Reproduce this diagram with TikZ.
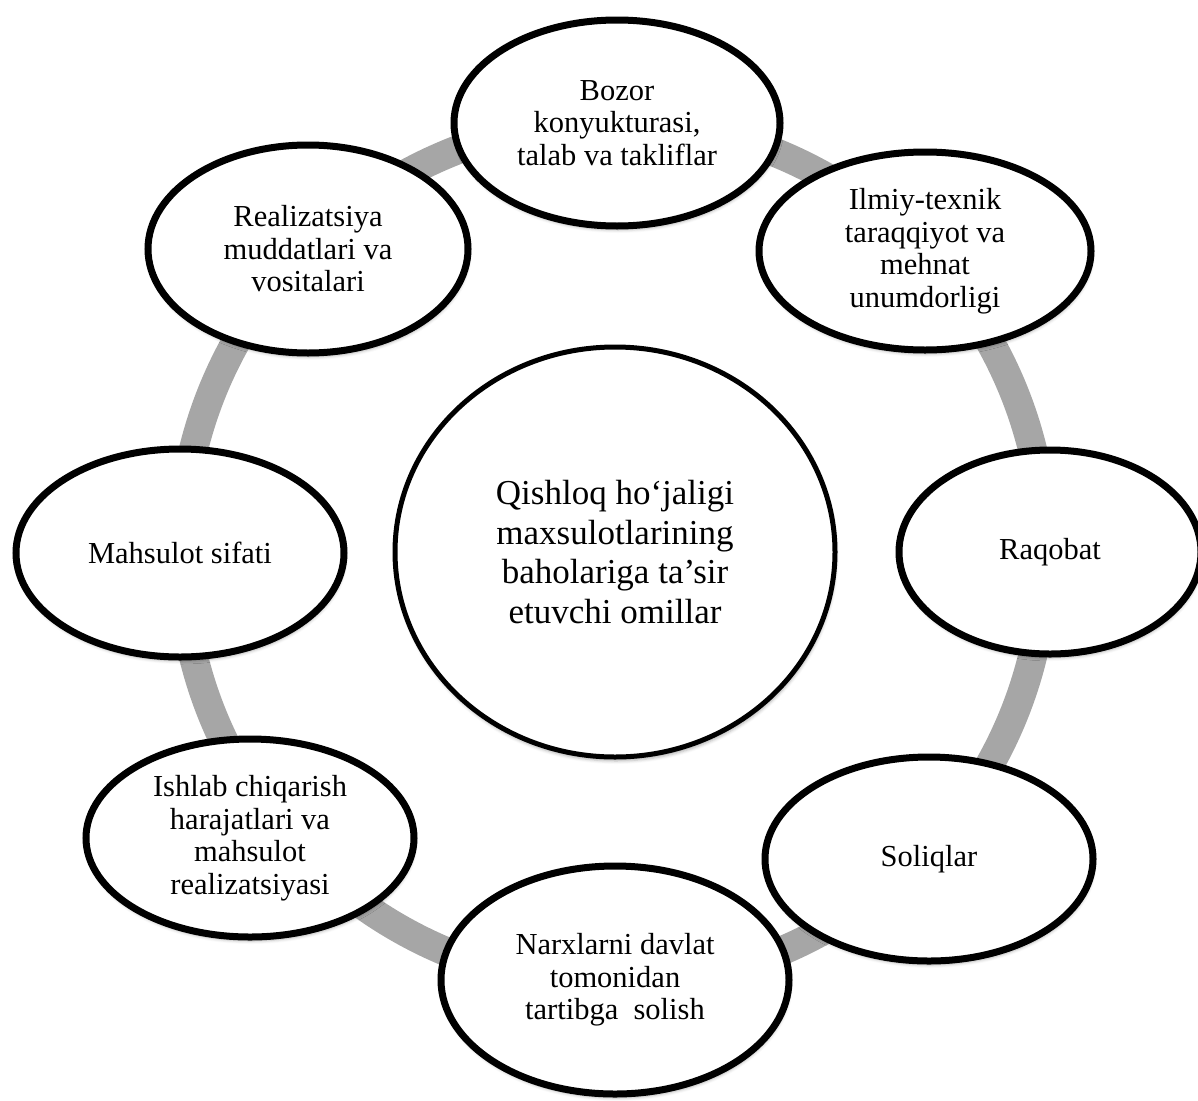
\documentclass[tikz,border=0pt]{standalone}
\usepackage{fontspec}
\setmainfont{Liberation Serif}
\newfontfamily\tnr{Liberation Serif}
\usetikzlibrary{shapes.geometric,shadows.blur,backgrounds}
\begin{document}
\begin{tikzpicture}[x=1pt,y=-1pt,
  softshadow/.style={blur shadow={shadow xshift=1pt, shadow yshift=-4pt, shadow blur radius=3pt, shadow opacity=30}},
  factor/.style={ellipse, draw=black, line width=7pt, fill=white, inner sep=0pt,
    align=center, font=\tnr\fontsize{30.5}{32.5}\selectfont, softshadow},
  hub/.style={ellipse, draw=black, line width=5pt, fill=white, inner sep=0pt,
    align=center, font=\tnr\fontsize{35}{39.5}\selectfont, softshadow},
  ring/.style={line width=29pt, draw=black!35}]
\useasboundingbox (0,0) rectangle (1198,1100);
\clip (0,0) rectangle (1198,1100);

\node[hub, minimum width=440pt, minimum height=410pt] (hub) at (615,552)
  {Qishloq ho‘jaligi\\maxsulotlarining\\baholariga ta’sir\\etuvchi omillar};

\node[factor, minimum width=326pt, minimum height=206pt] (bozor) at (617,123)
  {Bozor\\konyukturasi,\\talab va takliflar};
\node[factor, minimum width=332pt, minimum height=198pt] (ilmiy) at (925,251)
  {Ilmiy-texnik\\taraqqiyot va\\mehnat\\unumdorligi};
\node[factor, minimum width=302pt, minimum height=204pt] (raqobat) at (1050,552)
  {Raqobat};
\node[factor, minimum width=328pt, minimum height=204pt] (soliq) at (929,859)
  {Soliqlar};
\node[factor, minimum width=348pt, minimum height=228pt] (narx) at (615,980)
  {Narxlarni davlat\\tomonidan\\tartibga~ solish};
\node[factor, minimum width=328pt, minimum height=198pt] (ishlab) at (250,838)
  {Ishlab chiqarish\\harajatlari va\\mahsulot\\realizatsiyasi};
\node[factor, minimum width=328pt, minimum height=208pt] (sifat) at (180,553)
  {Mahsulot sifati};
\node[factor, minimum width=320pt, minimum height=208pt] (real) at (308,249)
  {Realizatsiya\\muddatlari va\\vositalari};

\begin{scope}[on background layer]
  \draw[ring] (hub.center) ++(-2,1) circle[radius=432pt];
\end{scope}
\end{tikzpicture}
\end{document}
